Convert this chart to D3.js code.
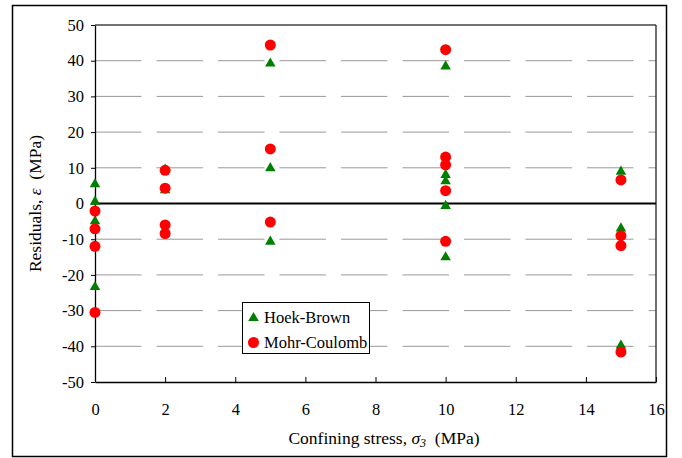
<!DOCTYPE html>
<html>
<head>
<meta charset="utf-8">
<script src="https://cdn.jsdelivr.net/npm/d3@7"></script>
<style>
  body { margin: 0; background: #fff; }
  svg { display: block; font-family: "Liberation Serif", "DejaVu Serif", serif; }
  text { white-space: pre; }
</style>
</head>
<body>
<svg id="chart"></svg>
<script>
// residual data (x = confining stress, y = residual)
let hbX = [0, 0, 0, 0, 2, 2, 2, 5, 5, 5, 10, 10, 10, 10, 10, 15, 15, 15]
let hbY = [5.7, 0.8, -4.7, -23.1, 9.8, 4.0, -7.8, 39.5, 10.2, -10.4, 38.7, 8.3, 6.5, -0.4, -14.8, 9.2, -6.7, -39.5]
let mcX = [0, 0, 0, 0, 2, 2, 2, 2, 5, 5, 5, 10, 10, 10, 10, 10, 15, 15, 15, 15]
let mcY = [-2.1, -7.1, -12.0, -30.5, 9.3, 4.3, -6.0, -8.4, 44.4, 15.3, -5.2, 43.1, 13.0, 10.8, 3.6, -10.6, 6.6, -9.0, -11.8, -41.6]

let xTicks = [0, 2, 4, 6, 8, 10, 12, 14, 16]
let yTicks = [-50, -40, -30, -20, -10, 0, 10, 20, 30, 40, 50]
let seriesNames = ['Hoek-Brown', 'Mohr-Coulomb']

let width = 682
let height = 458
let plotLeft = 95, plotRight = 656, plotTop = 25, plotBottom = 382

let svg = d3.select('#chart').attr('width', width).attr('height', height)

// outer frame around the whole figure
svg.append('rect')
    .attr('x', 12.5).attr('y', 5.5)
    .attr('width', 654).attr('height', 451)
    .attr('fill', 'none').attr('stroke', '#000').attr('stroke-width', 1.5)

let xScale = d3.scaleLinear().domain([0, 16]).range([plotLeft, plotRight])
let yScale = d3.scaleLinear().domain([-50, 50]).range([plotBottom, plotTop])

// dashed horizontal gridlines
svg.append('g')
    .selectAll('line')
    .data(yTicks.filter(d => d !== 0 && d !== 50 && d !== -50))
    .enter()
    .append('line')
    .attr('x1', plotLeft).attr('x2', plotRight)
    .attr('y1', d => yScale(d)).attr('y2', d => yScale(d))
    .attr('stroke', '#999')
    .attr('stroke-width', 1)
    .attr('stroke-dasharray', '46.5,15')

// plot frame top/right
svg.append('line')
    .attr('x1', plotLeft).attr('x2', plotRight)
    .attr('y1', plotTop).attr('y2', plotTop)
    .attr('stroke', '#444').attr('stroke-width', 1.3)
svg.append('line')
    .attr('x1', plotRight).attr('x2', plotRight)
    .attr('y1', plotTop).attr('y2', plotBottom)
    .attr('stroke', '#222').attr('stroke-width', 1.3)

// axes (plain hyphen for negatives, as in the original)
let xAxis = d3.axisBottom(xScale).tickValues(xTicks).tickSizeInner(-5).tickSizeOuter(0).tickPadding(22)
    .tickFormat(d => String(d))
let yAxis = d3.axisLeft(yScale).tickValues(yTicks).tickSizeInner(4).tickSizeOuter(0).tickPadding(7)
    .tickFormat(d => String(d))

let gx = svg.append('g')
    .attr('transform', 'translate(0,' + plotBottom + ')')
    .call(xAxis)
let gy = svg.append('g')
    .attr('transform', 'translate(' + plotLeft + ',0)')
    .call(yAxis)

for (let g of [gx, gy]) {
    g.select('.domain').attr('stroke', '#000').attr('stroke-width', 1.3)
    g.selectAll('.tick line').attr('stroke', '#000').attr('stroke-width', 1)
    g.selectAll('.tick text').attr('fill', '#000').style('font-size', '16.5px')
        .style('font-family', '"Liberation Serif", serif')
}
gx.selectAll('.tick text').attr('dy', '0.68em')

// zero line
svg.append('line')
    .attr('x1', plotLeft).attr('x2', plotRight)
    .attr('y1', yScale(0)).attr('y2', yScale(0))
    .attr('stroke', '#000').attr('stroke-width', 2)

// markers
let triangle = d3.symbol().type(d3.symbolTriangle).size(48)

svg.append('g')
    .selectAll('path')
    .data(hbX.map((x, i) => [x, hbY[i]]))
    .enter()
    .append('path')
    .attr('d', triangle)
    .attr('transform', d => 'translate(' + xScale(d[0]) + ',' + (yScale(d[1]) + 1) + ')')
    .attr('fill', '#008000')

svg.append('g')
    .selectAll('circle')
    .data(mcX.map((x, i) => [x, mcY[i]]))
    .enter()
    .append('circle')
    .attr('cx', d => xScale(d[0]))
    .attr('cy', d => yScale(d[1]))
    .attr('r', 5.5)
    .attr('fill', '#ff0000')

// legend
let legend = svg.append('g')
legend.append('rect')
    .attr('x', 242.5).attr('y', 302.5)
    .attr('width', 127).attr('height', 51)
    .attr('fill', '#fff').attr('stroke', '#000').attr('stroke-width', 1)
legend.append('path')
    .attr('d', triangle)
    .attr('transform', 'translate(253.5,318)')
    .attr('fill', '#008000')
legend.append('circle')
    .attr('cx', 253.5).attr('cy', 342.5).attr('r', 5.5)
    .attr('fill', '#ff0000')
legend.selectAll('text')
    .data(seriesNames)
    .enter()
    .append('text')
    .attr('x', 264)
    .attr('y', (d, i) => 323 + i * 25)
    .style('font-size', '16.5px')
    .text(d => d)

// axis titles
let xTitle = svg.append('text')
    .attr('x', 384).attr('y', 444)
    .attr('text-anchor', 'middle')
    .style('font-size', '17.5px')
xTitle.append('tspan').text('Confining stress, ')
xTitle.append('tspan').style('font-style', 'italic').text('σ')
xTitle.append('tspan').style('font-style', 'italic').style('font-size', '12px').attr('dy', 3).text('3')
xTitle.append('tspan').attr('dy', -3).text('  (MPa)')

let yTitle = svg.append('text')
    .attr('transform', 'translate(41,' + yScale(0) + ') rotate(-90)')
    .attr('text-anchor', 'middle')
    .style('font-size', '17.5px')
yTitle.append('tspan').text('Residuals, ')
yTitle.append('tspan').style('font-style', 'italic').text('ε')
yTitle.append('tspan').text('  (MPa)')
</script>
</body>
</html>
